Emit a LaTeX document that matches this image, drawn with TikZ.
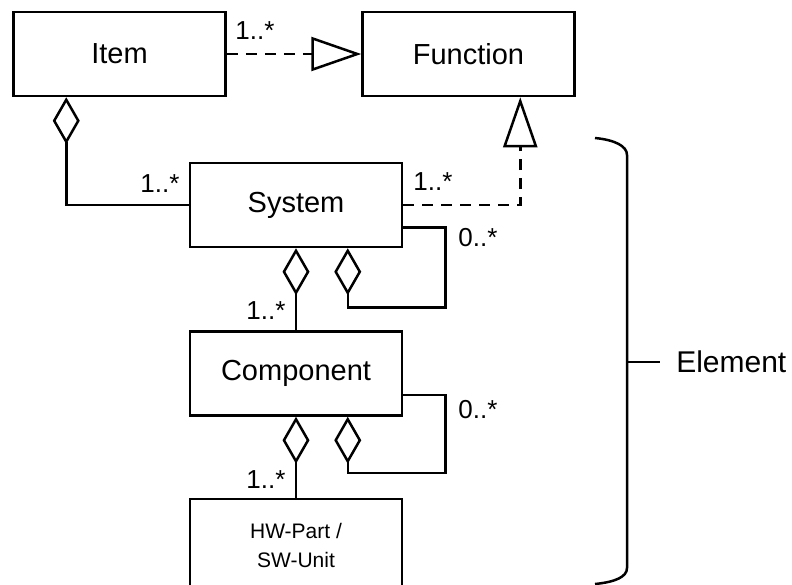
\documentclass[tikz,border=0pt]{standalone}
\usepackage{fontspec}
\setmainfont{Liberation Sans}
\usetikzlibrary{arrows.meta, positioning, calc}

\begin{document}
\begin{tikzpicture}[x=1pt, y=1pt, line width=2.5pt, node distance=82pt,
    block/.style={draw, minimum width=212pt, minimum height=84pt, inner sep=0pt, font=\fontsize{29}{34}\selectfont},
    mult/.style={inner sep=0pt, font=\fontsize{26}{30}\selectfont},
    aggr/.style={{Diamond[open, length=47pt, width=27pt]}-},
    real/.style={-{Triangle[open, length=50pt, width=34pt]}, dash pattern=on 11pt off 8pt}]
    \useasboundingbox (0,0) rectangle (792,-584);
    % classes
    \node[block] (item) at (119.5,-54) {Item};
    \node[block, right=134.5pt of item] (func) {Function};
    \node[block] (sys) at (296,-205) {System};
    \node[block, below=of sys] (comp) {Component};
    \node[block, below=81pt of comp, minimum height=92pt, align=center, font=\fontsize{21}{29}\selectfont] (part) {HW-Part /\\SW-Unit};
    % relations
    \draw[real] (item.east) -- (func.west);
    \draw[real] (sys.east) -| ([xshift=159pt]func.south west);
    \draw[aggr] ([xshift=54pt]item.south west) |- (sys.west);
    \draw[aggr] (sys.south) -- (comp.north);
    \draw[aggr] (comp.south) -- (part.north);
    \draw[aggr] ([xshift=159pt]sys.south west) -- ++(0,-59) -| ([xshift=42pt, yshift=21pt]sys.south east) -- ([yshift=21pt]sys.south east);
    \draw[aggr] ([xshift=159pt]comp.south west) -- ++(0,-56) -| ([xshift=42pt, yshift=22pt]comp.south east) -- ([yshift=22pt]comp.south east);
    % multiplicities
    \node[mult] (m1) at (255,-31) {1..*};
    \node[mult] (m2) at (160,-184) {1..*};
    \node[mult] (m3) at (433,-182) {1..*};
    \node[mult] (m4) at (478,-238) {0..*};
    \node[mult] (m5) at (266,-311) {1..*};
    \node[mult] (m6) at (478,-410) {0..*};
    \node[mult] (m7) at (266,-480) {1..*};
    % bracket
    \coordinate (brk) at (627,-362);
    \draw (595,-138) .. controls (615,-140) and (627,-146) .. (627,-155) -- (627,-568) .. controls (627,-577) and (615,-582) .. (595,-584);
    \node[anchor=west, inner sep=0pt, font=\fontsize{30}{36}\selectfont] (elem) at (675,-362) {Element};
    \draw (brk) -- ([xshift=-15pt]elem.west);
\end{tikzpicture}
\end{document}
